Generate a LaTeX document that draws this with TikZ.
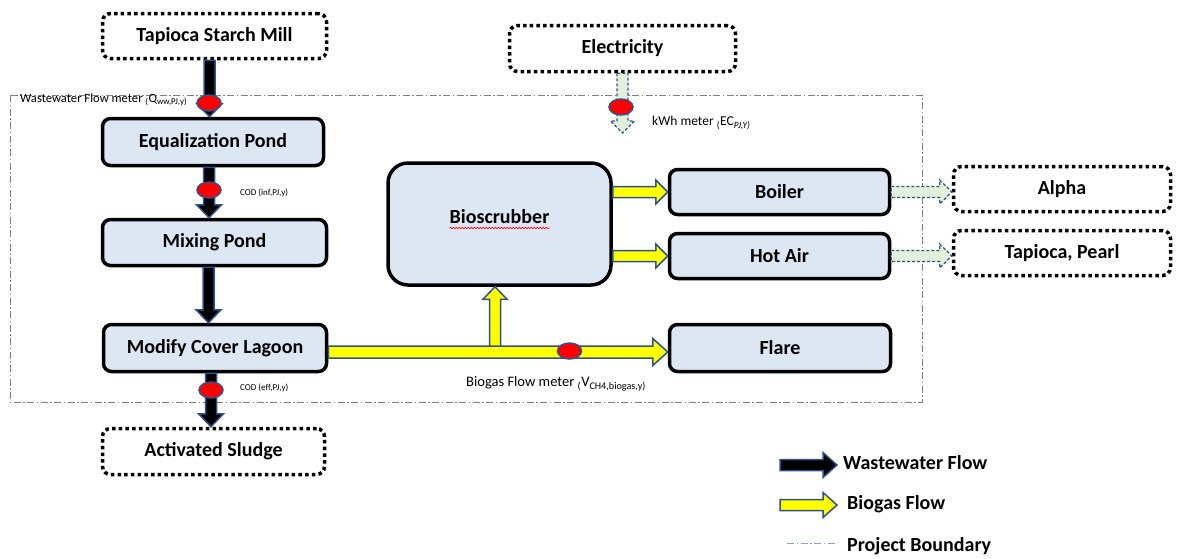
\documentclass[tikz,border=0pt]{standalone}
\usepackage{fontspec}
\setmainfont{Carlito}
\usetikzlibrary{shapes.geometric,calc,decorations.pathmorphing}
\definecolor{boxfill}{HTML}{DDE7F4}
\definecolor{edgeblue}{HTML}{2F528F}
\definecolor{flowgreen}{HTML}{E2F0D9}
\definecolor{gasyellow}{HTML}{FFFF00}
\definecolor{bndgray}{HTML}{808080}
\definecolor{legendgray}{HTML}{8EA0C0}
\tikzset{
  adims/.code args={#1/#2/#3}{\def\arw{#1}\def\arW{#2}\def\arh{#3}},
  blockdown/.style={to path={let \p1=(\tikztostart),\p2=(\tikztotarget) in
    (\x1-\arw,\y1) -- (\x1-\arw,\y2+\arh) -- (\x1-\arW,\y2+\arh) -- (\x1,\y2)
    -- (\x1+\arW,\y2+\arh) -- (\x1+\arw,\y2+\arh) -- (\x1+\arw,\y1) -- cycle}},
  blockup/.style={to path={let \p1=(\tikztostart),\p2=(\tikztotarget) in
    (\x1-\arw,\y1) -- (\x1-\arw,\y2-\arh) -- (\x1-\arW,\y2-\arh) -- (\x1,\y2)
    -- (\x1+\arW,\y2-\arh) -- (\x1+\arw,\y2-\arh) -- (\x1+\arw,\y1) -- cycle}},
  blockright/.style={to path={let \p1=(\tikztostart),\p2=(\tikztotarget) in
    (\x1,\y1+\arw) -- (\x2-\arh,\y1+\arw) -- (\x2-\arh,\y1+\arW) -- (\x2,\y1)
    -- (\x2-\arh,\y1-\arW) -- (\x2-\arh,\y1-\arw) -- (\x1,\y1-\arw) -- cycle}},
  wwflow/.style={fill=black, draw=edgeblue, line width=1.5pt, adims={5.5pt/12.5pt/13pt}},
  gasflow/.style={fill=gasyellow, draw=edgeblue, line width=1.5pt, adims={6pt/13.5pt/15pt}},
  heatflow/.style={fill=flowgreen, draw=edgeblue, line width=1.2pt, dash pattern=on 3pt off 2pt, adims={5.5pt/12pt/12pt}},
  procbox/.style={draw=black, line width=3.5pt, fill=boxfill, rounded corners=8pt,
    minimum width=222pt, minimum height=46pt, inner sep=0pt,
    font=\fontsize{20}{24}\selectfont\bfseries},
  extbox/.style={draw=black, line width=3.5pt, dash pattern=on 3.5pt off 3.2pt, rounded corners=8pt,
    fill=white, minimum width=222pt, minimum height=46pt, inner sep=0pt,
    font=\fontsize{20}{24}\selectfont\bfseries},
  meter/.style={ellipse, draw=edgeblue, line width=1.5pt, fill=red,
    minimum width=24pt, minimum height=16pt, inner sep=0pt},
  notetext/.style={anchor=west, inner sep=0pt, font=\fontsize{12.6}{15}\selectfont},
  codtext/.style={anchor=west, inner sep=0pt, font=\fontsize{9}{11}\selectfont},
  legendtext/.style={anchor=west, inner sep=0pt, font=\fontsize{20}{24}\selectfont\bfseries},
  boundary/.style={draw=bndgray, line width=0.8pt, dash pattern=on 7pt off 2.5pt on 1.5pt off 2.5pt},
}
\begin{document}
\begin{tikzpicture}[x=1pt,y=-1pt]
\useasboundingbox (0,0) rectangle (1182,558);

% project boundary
\draw[boundary] (10,95) rectangle (922,402);

% boxes
\node[extbox, minimum width=224pt, minimum height=45pt] (mill) at (214.5,36) {Tapioca Starch Mill};
\node[extbox, minimum width=226pt, minimum height=46pt] (elec) at (622.5,48.5) {Electricity};
\node[procbox, minimum width=221pt, minimum height=47pt] (eq) at (213,142) {Equalization Pond};
\node[procbox, minimum width=224pt, minimum height=46pt] (mix) at (214.5,242.5) {Mixing Pond};
\node[procbox, minimum width=223pt, minimum height=47pt] (lagoon) at (215,348) {Modify Cover Lagoon};
\node[extbox, minimum width=222pt, minimum height=46pt] (sludge) at (213.5,451.5) {Activated Sludge};
\node[procbox, minimum width=223pt, minimum height=122pt, rounded corners=20pt] (scrub) at (499.5,224) {};
\node[inner sep=0pt, font=\fontsize{20}{24}\selectfont\bfseries] (scrubtxt) at (499.5,217) {Bioscrubber};
\node[procbox, minimum width=220pt, minimum height=45pt] (boiler) at (779.5,192) {Boiler};
\node[procbox, minimum width=220pt, minimum height=45pt] (hotair) at (779.5,256) {Hot Air};
\node[procbox, minimum width=221pt, minimum height=47pt] (flare) at (780,348) {Flare};
\node[extbox, minimum width=217pt, minimum height=45pt] (alpha) at (1062,189) {Alpha};
\node[extbox, minimum width=217pt, minimum height=45pt] (pearl) at (1062,253) {Tapioca, Pearl};

% spell-check underline
\draw[red, line width=0.6pt, decorate, decoration={snake, amplitude=0.8pt, segment length=3pt}]
  ($(scrubtxt.base west)+(0,4)$) -- ($(scrubtxt.base east)+(0,4)$);

% wastewater flow
\coordinate (w1) at ($(mill.south)+(-5,0)$);
\coordinate (w2) at ($(eq.south)+(-4,0)$);
\coordinate (w3) at ($(mix.south)+(-6,0)$);
\coordinate (w4) at ($(lagoon.south)+(-4,0)$);
\draw[wwflow, blockdown] (w1) to (eq.north);
\draw[wwflow, blockdown] (w2) to (mix.north);
\draw[wwflow, blockdown] (w3) to (lagoon.north);
\draw[wwflow, blockdown] (w4) to (sludge.north);

% electricity
\coordinate (elecend) at (621,133);
\draw[heatflow, blockdown] (elec.south) to (elecend);

% biogas flow
\coordinate (split) at (495,347);
\coordinate (gs) at ($(lagoon.east)+(0,4)$);
\draw[gasflow, adims={5.5pt/12pt/12.5pt}, blockup] (split) to (split |- scrub.south);
\draw[gasflow, blockright] (gs) to (flare.west);
\draw[gasflow, adims={5.5pt/12pt/12pt}, blockright] (scrub.east |- boiler.west) to (boiler.west);
\draw[gasflow, adims={5.5pt/12pt/12pt}, blockright] (scrub.east |- hotair.west) to (hotair.west);

% heat to users
\draw[heatflow, blockright] (boiler.east) to (boiler.east -| alpha.west);
\draw[heatflow, blockright] (hotair.east) to (hotair.east -| pearl.west);

% meters
\node[meter] (m1) at (209,103) {};
\node[meter] (m2) at (209,190) {};
\node[meter] (m3) at (211,390) {};
\node[meter] (m4) at (569.5,351) {};
\node[meter] (m5) at (621,107) {};

% meter labels
\node[notetext] (wwlabel) at (20,100) {Wastewater Flow meter \textsubscript{(}Q\textsubscript{ww,PJ,y)}};
\node[codtext] (codinf) at (240,193) {COD (inf,PJ,y)};
\node[codtext] (codeff) at (240,388) {COD (eff,PJ,y)};
\node[notetext, font=\fontsize{14.5}{17}\selectfont] (gaslabel) at (466,384) {Biogas Flow meter \textsubscript{(}V\textsubscript{CH4,biogas,y)}};
\node[notetext, font=\fontsize{13.5}{16}\selectfont] (kwhlabel) at (652,123) {kWh meter \textsubscript{(}EC\textsubscript{\itshape PJ,Y)}};

% legend
\coordinate (lw1) at (780,465);
\coordinate (lw2) at (837,465);
\coordinate (lg1) at (780,505);
\coordinate (lg2) at (837,505);
\coordinate (lb1) at (787,543);
\coordinate (lb2) at (836,543);
\draw[wwflow, adims={5.5pt/12.5pt/14pt}, blockright] (lw1) to (lw2);
\draw[gasflow, adims={5.5pt/12.5pt/14pt}, blockright] (lg1) to (lg2);
\draw[boundary, draw=legendgray] (lb1) -- (lb2);
\node[legendtext] (lwtext) at (843,463) {Wastewater Flow};
\node[legendtext] (lgtext) at (847,504) {Biogas Flow};
\node[legendtext] (lbtext) at (847,546) {Project Boundary};
\end{tikzpicture}
\end{document}
